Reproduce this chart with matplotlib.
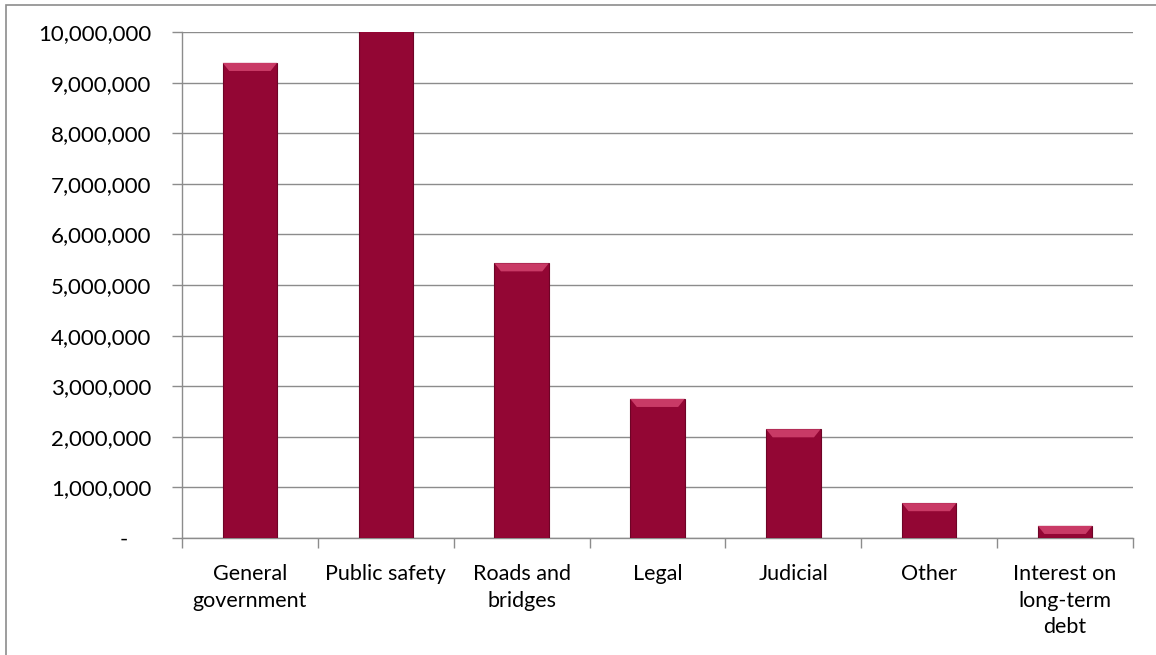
import numpy as np
import matplotlib.pyplot as plt
from matplotlib.patches import Rectangle, Polygon
from matplotlib.ticker import FuncFormatter

# data
categories = ['General\ngovernment', 'Public safety', 'Roads and\nbridges', 'Legal',
              'Judicial', 'Other', 'Interest on\nlong-term\ndebt']
values = [9390000, 10080000, 5430000, 2750000, 2150000, 690000, 240000]

bar_color = '#930634'
grid_color = '#8c8c8c'

plt.rcParams['font.family'] = ['Lato', 'DejaVu Sans']

fig = plt.figure(figsize=(11.56, 6.55), dpi=100)
ax = fig.add_axes([0.1574, 0.1786, 0.8227, 0.7725])

x = np.arange(len(categories))
width = 0.4
ax.bar(x, values, width=width, color=bar_color, edgecolor='#6e0426', linewidth=0.8, zorder=3)

# light bevel on the top of each bar
ymax = 10000000
bevel_h = 0.016 * ymax
for xi, v in zip(x, values):
    if v > ymax:
        continue
    left, right = xi - width / 2, xi + width / 2
    inset = width * 0.12
    poly = Polygon([(left, v), (right, v), (right - inset, v - bevel_h), (left + inset, v - bevel_h)],
                   closed=True, facecolor='#c93a66', edgecolor='none', zorder=4)
    ax.add_patch(poly)

ax.set_xlim(-0.5, len(categories) - 0.5)
ax.set_ylim(0, ymax)
ax.set_yticks(np.arange(0, ymax + 1, 1000000))
ax.yaxis.set_major_formatter(FuncFormatter(lambda v, p: '-    ' if v == 0 else f'{int(v):,}'))
ax.grid(axis='y', color=grid_color, linewidth=1, zorder=0)
ax.set_axisbelow(True)

ax.set_xticks(x)
ax.set_xticklabels(categories, linespacing=1.4, va='top')
ax.set_xticks(np.arange(-0.5, len(categories)), minor=True)
ax.tick_params(axis='x', which='major', length=0, pad=19, labelsize=15.5, colors='black')
ax.tick_params(axis='x', which='minor', length=7, width=1, color=grid_color, direction='out')
ax.tick_params(axis='y', length=7, width=1, color=grid_color, pad=15, labelsize=16)

for s in ['top', 'right']:
    ax.spines[s].set_visible(False)
for s in ['left', 'bottom']:
    ax.spines[s].set_color(grid_color)
    ax.spines[s].set_linewidth(1)

# chart frame (runs off the right and bottom edges)
fig.patches.append(Rectangle((6 / 1156, -0.1), 1.2, 1.1 - 5 / 655, transform=fig.transFigure,
                             fill=False, edgecolor='#8c8c8c', linewidth=1.2))

fig.savefig('out.png', dpi=100)
